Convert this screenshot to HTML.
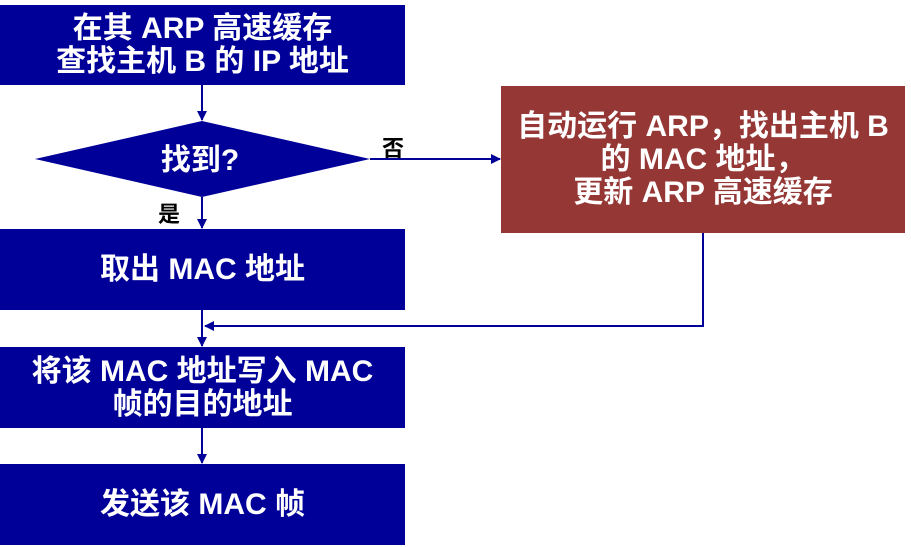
<!DOCTYPE html>
<html><head><meta charset="utf-8"><style>
body{margin:0;width:911px;height:547px;background:#fff;position:relative;overflow:hidden;font-family:"Liberation Sans","Noto Sans CJK SC",sans-serif;font-weight:bold}
.b{position:absolute;background:#000099;color:#fff;display:flex;align-items:center;justify-content:center;text-align:center;font-size:30px;line-height:33px;white-space:nowrap}
.r{background:#953735}
.l{position:absolute;font-size:22px;color:#000}
</style></head><body>
<svg width="911" height="547" style="position:absolute;left:0;top:0">
<defs><marker id="a" markerWidth="10" markerHeight="10" refX="9" refY="5" orient="auto" markerUnits="userSpaceOnUse"><path d="M0,0 L10,5 L0,10 z" fill="#000099"/></marker></defs>
<g stroke="#000099" stroke-width="2" fill="none">
<line x1="202" y1="85" x2="202" y2="120" marker-end="url(#a)"/>
<line x1="202" y1="197" x2="202" y2="228" marker-end="url(#a)"/>
<line x1="370" y1="159" x2="500" y2="159" marker-end="url(#a)"/>
<line x1="202" y1="310" x2="202" y2="346" marker-end="url(#a)"/>
<polyline points="703,233 703,326 205,326" marker-end="url(#a)"/>
<line x1="202" y1="428" x2="202" y2="463" marker-end="url(#a)"/>
</g>
<polygon points="35,159 202,121 370,159 202,197" fill="#000099"/>
<text x="200" y="170" fill="#fff" font-size="30" text-anchor="middle" font-weight="bold" font-family="Liberation Sans, Noto Sans CJK SC, sans-serif">找到?</text>
</svg>
<div class="b" style="left:0;top:5px;width:405px;height:80px">在其 ARP 高速缓存<br>查找主机 B 的 IP 地址</div>
<div class="b" style="left:0;top:229px;width:405px;height:81px">取出 MAC 地址</div>
<div class="b" style="left:0;top:347px;width:405px;height:81px">将该 MAC 地址写入 MAC<br>帧的目的地址</div>
<div class="b" style="left:0;top:464px;width:405px;height:81px">发送该 MAC 帧</div>
<div class="b r" style="left:501px;top:86px;width:404px;height:147px">自动运行 ARP，找出主机 B<br>的 MAC 地址，<br>更新 ARP 高速缓存</div>
<div class="l" style="left:382px;top:131px">否</div>
<div class="l" style="left:158px;top:197px">是</div>
</body></html>
